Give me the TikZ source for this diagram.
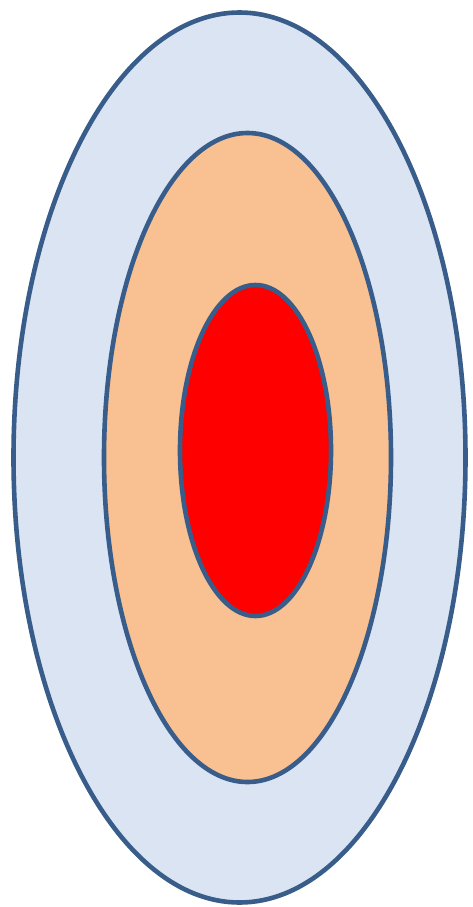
\documentclass[tikz,border=0pt]{standalone}
\definecolor{edge}{HTML}{385D8A}
\definecolor{outerfill}{HTML}{DBE4F2}
\definecolor{midfill}{HTML}{F9C191}
\definecolor{innerfill}{HTML}{FF0000}
\begin{document}
\begin{tikzpicture}[x=1pt,y=-1pt,
  ring/.style={draw=edge,line width=4.6pt}]
\useasboundingbox (0,0) rectangle (472,907);
\fill[white] (0,0) rectangle (472,907);
\path[ring,fill=outerfill] (239.5,457.5) ellipse [x radius=226,y radius=445];
\path[ring,fill=midfill] (247.5,457.5) ellipse [x radius=143.5,y radius=324.5];
\path[ring,fill=innerfill] (255.5,450.5) ellipse [x radius=75.5,y radius=165.5];
\end{tikzpicture}
\end{document}
